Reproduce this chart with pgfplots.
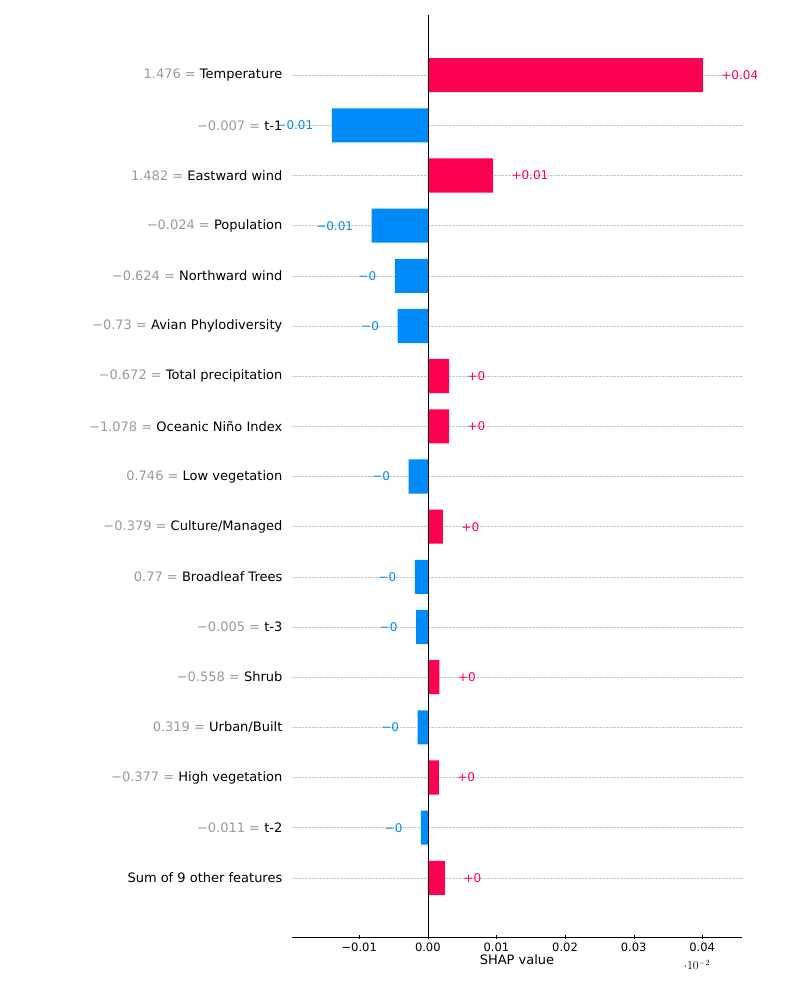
\documentclass[border=0pt]{standalone}
\usepackage{pgfplots}
\pgfplotsset{compat=1.18}
\usepackage{fontspec}
\setmainfont{DejaVu Sans}
\definecolor{shred}{HTML}{FF0051}
\definecolor{shblue}{HTML}{008BFB}
\definecolor{lgray}{HTML}{999999}
\newcommand{\fl}[2]{\textcolor{lgray}{#1 = }#2}
\begin{document}
\begin{tikzpicture}[x=1pt,y=1pt]
\path[use as bounding box] (0,0) rectangle (800,1000);
\begin{axis}[
  at={(292pt,63pt)}, anchor=south west, scale only axis,
  width=450pt, height=922pt,
  xmin=-0.0198, xmax=0.0458, ymin=-1.18, ymax=17.2,
  axis x line=bottom, axis y line=left,
  x axis line style={-}, y axis line style={draw=none},
  xtick={-0.01,0,0.01,0.02,0.03,0.04},
  xticklabels={−0.01,0.00,0.01,0.02,0.03,0.04},
  ytick={0,...,16},
  yticklabels={Sum of 9 other features,\fl{−0.011}{t-2},\fl{−0.377}{High vegetation},\fl{0.319}{Urban/Built},\fl{−0.558}{Shrub},\fl{−0.005}{t-3},\fl{0.77}{Broadleaf Trees},\fl{−0.379}{Culture/Managed},\fl{0.746}{Low vegetation},\fl{−1.078}{Oceanic Niño Index},\fl{−0.672}{Total precipitation},\fl{−0.73}{Avian Phylodiversity},\fl{−0.624}{Northward wind},\fl{−0.024}{Population},\fl{1.482}{Eastward wind},\fl{−0.007}{t-1},\fl{1.476}{Temperature}},
  y tick label style={font=\fontsize{13}{15}\selectfont, xshift=-4pt},
  x tick label style={font=\fontsize{11.5}{13}\selectfont},
  xlabel={SHAP value}, xlabel style={font=\fontsize{13}{15}\selectfont, yshift=4pt},
  major x tick style={black}, major y tick style={draw=none},
  ymajorgrids, grid style={densely dotted, gray!45},
  clip=false,
]
\addplot[xbar, bar width=0.68, fill=shred, draw=none,
  nodes near coords, point meta=explicit symbolic,
  every node near coord/.style={anchor=west, xshift=15pt, text=shred, font=\fontsize{12}{14}\selectfont}]
coordinates {(0.0401,16)[+0.04] (0.0095,14)[+0.01] (0.0031,10)[+0] (0.0031,9)[+0] (0.0022,7)[+0] (0.0017,4)[+0] (0.0016,2)[+0] (0.0025,0)[+0]};
\addplot[xbar, bar width=0.68, fill=shblue, draw=none,
  nodes near coords, point meta=explicit symbolic,
  every node near coord/.style={anchor=east, xshift=-15pt, text=shblue, font=\fontsize{12}{14}\selectfont}]
coordinates {(-0.0140,15)[−0.01] (-0.0082,13)[−0.01] (-0.0048,12)[−0] (-0.0044,11)[−0] (-0.0028,8)[−0] (-0.0019,6)[−0] (-0.0017,5)[−0] (-0.0015,3)[−0] (-0.0010,1)[−0]};
\addplot[black, thin] coordinates {(0,-1.18) (0,17.2)};
\end{axis}
\end{tikzpicture}
\end{document}
